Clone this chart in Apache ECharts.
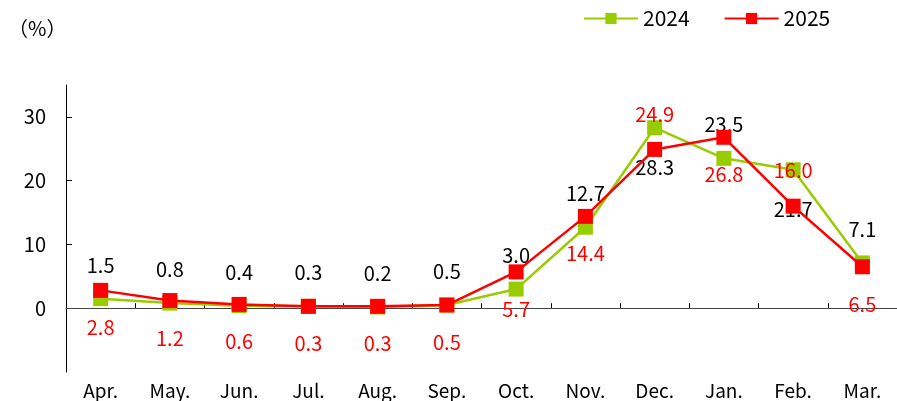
<!DOCTYPE html>
<html>
<head>
<meta charset="utf-8">
<script src="https://cdn.jsdelivr.net/npm/echarts@6/dist/echarts.min.js"></script>
<style>
  html, body { margin: 0; padding: 0; background: #fff; }
  #chart { width: 897px; height: 401px; }
</style>
</head>
<body>
<div id="chart"></div>
<script>
const months = ['Apr.', 'May.', 'Jun.', 'Jul.', 'Aug.', 'Sep.', 'Oct.', 'Nov.', 'Dec.', 'Jan.', 'Feb.', 'Mar.']
const values2024 = [1.5, 0.8, 0.4, 0.3, 0.2, 0.5, 3.0, 12.7, 28.3, 23.5, 21.7, 7.1]
const values2025 = [2.8, 1.2, 0.6, 0.3, 0.3, 0.5, 5.7, 14.4, 24.9, 26.8, 16.0, 6.5]
const yTicks = [0, 10, 20, 30]
// months where the labels swap sides
const flipped = ['Dec.', 'Feb.']

const font = "'Noto Sans CJK JP', 'Noto Sans', sans-serif"

function items(values, normalPos, color) {
  return values.map((v, i) => {
    const flip = flipped.includes(months[i])
    const pos = flip ? (normalPos === 'top' ? 'bottom' : 'top') : normalPos
    return {
      value: v,
      label: {
        show: true,
        position: pos,
        distance: pos === 'top' ? (flip ? 18 : 16) : (flip ? 22 : 20),
        color,
        fontSize: 20,
        fontFamily: font,
        formatter: (p) => p.value.toFixed(1),
      },
    }
  })
}

const chart = echarts.init(document.getElementById('chart'))

chart.setOption({
  animation: false,
  textStyle: { fontFamily: font },
  graphic: [
    { type: 'text', left: 8, top: 18, style: { text: '（%）', fontSize: 20, fill: '#000', fontFamily: "'Noto Sans CJK JP'" } },
  ],
  legend: {
    top: 3,
    left: 578,
    itemWidth: 54,
    itemHeight: 14,
    itemGap: 34,
    textStyle: { fontSize: 21, color: '#000', fontFamily: font },
    data: ['2024', '2025'],
  },
  grid: { left: 66, right: -4, top: 85, bottom: 29 },
  xAxis: {
    type: 'category',
    data: months,
    boundaryGap: true,
    axisLine: { lineStyle: { color: '#000', width: 1 } },
    axisTick: { show: true, inside: true, length: 5, lineStyle: { color: '#000' } },
    axisLabel: { color: '#000', fontSize: 19, margin: 9, fontFamily: font },
  },
  yAxis: {
    type: 'value',
    min: -10,
    max: 35,
    interval: 10,
    axisLine: { show: true, lineStyle: { color: '#000', width: 1 } },
    axisTick: { show: true, inside: true, length: 6, customValues: yTicks, lineStyle: { color: '#000' } },
    axisLabel: { color: '#000', fontSize: 20, margin: 20, customValues: yTicks, fontFamily: font },
    splitLine: { show: false },
  },
  series: [
    {
      name: '2024',
      type: 'line',
      data: items(values2024, 'top', '#000'),
      symbol: 'rect',
      symbolSize: 15,
      lineStyle: { color: '#99CC00', width: 2.5 },
      itemStyle: { color: '#99CC00' },
      z: 2,
    },
    {
      name: '2025',
      type: 'line',
      data: items(values2025, 'bottom', '#FF0000'),
      symbol: 'rect',
      symbolSize: 15,
      lineStyle: { color: '#FF0000', width: 2.5 },
      itemStyle: { color: '#FF0000' },
      z: 3,
      markLine: {
        silent: true,
        symbol: 'none',
        label: { show: false },
        lineStyle: { color: '#444', width: 1.2, type: 'solid' },
        data: [{ yAxis: 0 }],
        z: 1,
      },
    },
  ],
})
</script>
</body>
</html>
